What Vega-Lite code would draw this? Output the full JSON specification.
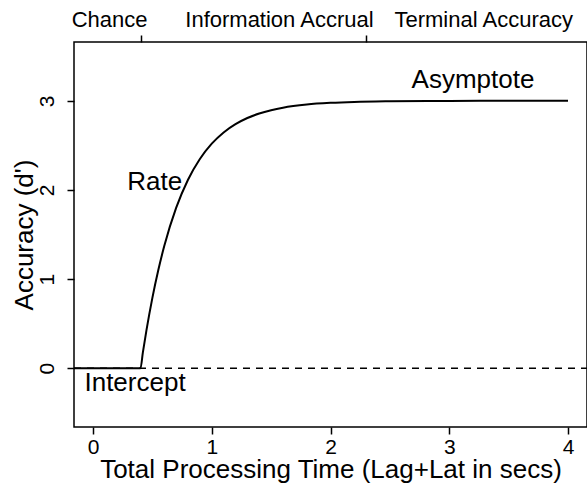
{
  "$schema": "https://vega.github.io/schema/vega-lite/v6.json",
  "width": 513,
  "height": 385,
  "autosize": {"type": "none"},
  "padding": {"left": 74, "top": 42, "right": 0, "bottom": 59},
  "background": "white",
  "config": {
    "font": "Liberation Sans",
    "view": {"stroke": "black", "strokeWidth": 1.5},
    "axis": {
      "grid": false,
      "domain": false,
      "tickColor": "black",
      "tickWidth": 1.5,
      "tickSize": 7,
      "labelColor": "black",
      "titleColor": "black",
      "labelFont": "Liberation Sans",
      "titleFont": "Liberation Sans",
      "labelFontSize": 21,
      "titleFontSize": 26,
      "titleFontWeight": "normal"
    }
  },
  "datasets": {
    "curve": [
      {"t": -0.16, "d": 0},
      {"t": 0.4, "d": 0},
      {"t": 0.42, "d": 0.178},
      {"t": 0.45, "d": 0.424},
      {"t": 0.5, "d": 0.789},
      {"t": 0.55, "d": 1.101},
      {"t": 0.6, "d": 1.37},
      {"t": 0.7, "d": 1.798},
      {"t": 0.8, "d": 2.114},
      {"t": 0.9, "d": 2.347},
      {"t": 1.0, "d": 2.519},
      {"t": 1.1, "d": 2.645},
      {"t": 1.2, "d": 2.738},
      {"t": 1.3, "d": 2.807},
      {"t": 1.4, "d": 2.858},
      {"t": 1.5, "d": 2.895},
      {"t": 1.6, "d": 2.923},
      {"t": 1.8, "d": 2.958},
      {"t": 2.0, "d": 2.977},
      {"t": 2.2, "d": 2.988},
      {"t": 2.5, "d": 2.995},
      {"t": 3.0, "d": 2.999},
      {"t": 3.5, "d": 3.0},
      {"t": 4.0, "d": 3.0}
    ],
    "chance": [{"t": -0.16, "d": 0}, {"t": 4.16, "d": 0}],
    "phases": [{"t": 0.4}, {"t": 2.3}],
    "phaseNames": [
      {"t": 0.14, "d": 3.83, "label": "Chance"},
      {"t": 1.57, "d": 3.83, "label": "Information Accrual"},
      {"t": 3.29, "d": 3.83, "label": "Terminal Accuracy"}
    ],
    "parameters": [
      {"t": 3.2, "d": 3.14, "label": "Asymptote"},
      {"t": 0.52, "d": 2.0, "label": "Rate"},
      {"t": 0.354, "d": -0.26, "label": "Intercept"}
    ]
  },
  "layer": [
    {
      "data": {"name": "chance"},
      "mark": {"type": "line", "color": "black", "strokeWidth": 1.5, "strokeDash": [7, 6]},
      "encoding": {
        "x": {
          "field": "t",
          "type": "quantitative",
          "scale": {"domain": [-0.16, 4.16], "nice": false, "zero": false},
          "axis": {
            "values": [0, 1, 2, 3, 4],
            "format": "d",
            "labelPadding": 2,
            "labelBaseline": "top",
            "title": "Total Processing Time (Lag+Lat in secs)",
            "titleBaseline": "alphabetic",
            "titleY": 50
          }
        },
        "y": {
          "field": "d",
          "type": "quantitative",
          "scale": {"domain": [-0.66, 3.66], "nice": false, "zero": false},
          "axis": {
            "values": [0, 1, 2, 3],
            "format": "d",
            "labelAngle": -90,
            "labelAlign": "center",
            "labelBaseline": "alphabetic",
            "labelPadding": 14,
            "title": "Accuracy (d')",
            "titleBaseline": "alphabetic",
            "titleX": -42
          }
        }
      }
    },
    {
      "data": {"name": "curve"},
      "mark": {"type": "line", "color": "black", "strokeWidth": 2, "interpolate": "monotone"},
      "encoding": {
        "x": {"field": "t", "type": "quantitative", "axis": null},
        "y": {"field": "d", "type": "quantitative"}
      }
    },
    {
      "data": {"name": "phases"},
      "mark": {"type": "point", "opacity": 0},
      "encoding": {
        "x": {
          "field": "t",
          "type": "quantitative",
          "axis": {"orient": "top", "values": [0.4, 2.3], "labels": false, "title": null}
        }
      }
    },
    {
      "data": {"name": "phaseNames"},
      "mark": {"type": "text", "color": "black", "fontSize": 22, "font": "Liberation Sans", "align": "center", "baseline": "alphabetic"},
      "encoding": {
        "x": {"field": "t", "type": "quantitative", "axis": null},
        "y": {"field": "d", "type": "quantitative"},
        "text": {"field": "label"}
      }
    },
    {
      "data": {"name": "parameters"},
      "mark": {"type": "text", "color": "black", "fontSize": 26, "font": "Liberation Sans", "align": "center", "baseline": "alphabetic"},
      "encoding": {
        "x": {"field": "t", "type": "quantitative", "axis": null},
        "y": {"field": "d", "type": "quantitative"},
        "text": {"field": "label"}
      }
    }
  ],
  "resolve": {"axis": {"x": "independent"}}
}
